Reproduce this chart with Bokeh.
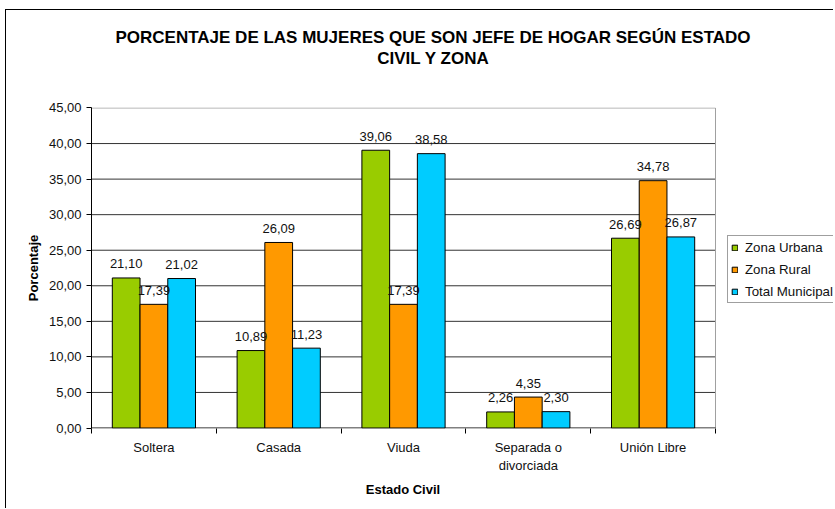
from bokeh.plotting import figure
from bokeh.layouts import column
from bokeh.models import (ColumnDataSource, Range1d, FixedTicker, CustomJSTickFormatter,
                          LabelSet, Legend, LegendItem, Div)
from bokeh.core.properties import value
from bokeh.embed import file_html
from bokeh.resources import INLINE

categories = ["Soltera", "Casada", "Viuda", "Separada o\ndivorciada", "Unión Libre"]
series_names = ["Zona Urbana", "Zona Rural", "Total Municipal"]
zona_urbana = [21.10, 10.89, 39.06, 2.26, 26.69]
zona_rural = [17.39, 26.09, 17.39, 4.35, 34.78]
total_municipal = [21.02, 11.23, 38.58, 2.30, 26.87]
colors = ["#99CC00", "#FF9900", "#00CCFF"]
y_ticks = [0, 5, 10, 15, 20, 25, 30, 35, 40, 45]
title_lines = ["PORCENTAJE DE LAS MUJERES QUE SON JEFE DE HOGAR SEGÚN ESTADO", "CIVIL Y ZONA"]
x_title = "Estado Civil"
y_title = "Porcentaje"

FONT = "Liberation Sans"
CSS_FONT = "font-family:'Liberation Sans', Arial, sans-serif;"

n = len(categories)
y_max = y_ticks[-1]

title_div = Div(
    text=('<div style="width:800px; margin-left:27px; text-align:center; ' + CSS_FONT +
          'font-size:17px; font-weight:bold; line-height:21px; padding-top:17px; color:black;">'
          + title_lines[0] + '<br>' + title_lines[1] + '</div>'),
    width=827, height=87, margin=0)

# the frame runs to the right edge so that the legend beside the plot area is not clipped
frame_w = 827 - 85
cat_px = 624 / n
p = figure(width=827, height=381,
           x_range=Range1d(0, frame_w / cat_px),
           y_range=Range1d(-0.07, y_max + 0.07),
           output_backend="svg", toolbar_location=None, title=None, margin=0,
           min_border_left=85, min_border_right=0, min_border_top=10, min_border_bottom=50)

p.outline_line_color = None
p.xgrid.visible = False
p.ygrid.visible = False
p.background_fill_color = "white"

# horizontal gridlines and the plot-area border, limited to the category span
grid_vals = y_ticks[1:-1]
p.segment(x0=[0] * len(grid_vals), x1=[n] * len(grid_vals), y0=grid_vals, y1=grid_vals,
          line_color="#333333", line_width=1)
p.segment(x0=[0, n], x1=[n, n], y0=[y_max, 0], y1=[y_max, y_max],
          line_color="#a0a0a0", line_width=1)
p.segment(x0=[0], x1=[n], y0=[0], y1=[0], line_color="black", line_width=1)

bar_w = 1.0 / 4.5
series = [zona_urbana, zona_rural, total_municipal]
renderers = []
for j, vals in enumerate(series):
    xs = [i + 0.5 + (j - 1) * bar_w for i in range(n)]
    src = ColumnDataSource(dict(x=xs, top=vals, lab=[f"{v:.2f}".replace(".", ",") for v in vals]))
    r = p.vbar(x="x", top="top", bottom=0, width=bar_w, source=src, fill_color=colors[j],
               line_color="black", line_width=1)
    renderers.append(r)
    p.add_layout(LabelSet(x="x", y="top", text="lab", source=src, y_offset=14,
                          text_align="center", text_baseline="middle",
                          text_font=value(FONT), text_font_size="13px", text_color="#111111"))

# y axis
yax = p.yaxis[0]
yax.ticker = FixedTicker(ticks=y_ticks)
yax.formatter = CustomJSTickFormatter(code="return tick.toFixed(2).replace('.', ',');")
yax.axis_line_color = "black"
yax.major_tick_line_color = "black"
yax.major_tick_out = 5
yax.major_tick_in = 0
yax.minor_tick_line_color = None
yax.major_label_text_font = FONT
yax.major_label_text_font_size = "13px"
yax.major_label_text_color = "#111111"
yax.major_label_standoff = 5
yax.axis_label = y_title
yax.axis_label_text_font = FONT
yax.axis_label_text_font_size = "13px"
yax.axis_label_text_font_style = "bold"
yax.axis_label_text_color = "black"
yax.axis_label_standoff = 5

# x axis: labels at category centres, tick marks at category boundaries
xax = p.xaxis[0]
xax.ticker = FixedTicker(ticks=[i + 0.5 for i in range(n)], minor_ticks=list(range(n + 1)))
xax.major_label_overrides = {i + 0.5: c for i, c in enumerate(categories)}
xax.major_tick_line_color = None
xax.minor_tick_line_color = "black"
xax.minor_tick_out = 5
xax.minor_tick_in = 0
xax.axis_line_color = None
xax.major_label_text_font = FONT
xax.major_label_text_font_size = "13px"
xax.major_label_text_color = "#111111"
xax.major_label_standoff = 5

legend = Legend(items=[LegendItem(label=series_names[j], renderers=[renderers[j]]) for j in range(3)],
                location=(636, 125), orientation="vertical",
                border_line_color="#404040", border_line_width=1,
                background_fill_color="white", background_fill_alpha=1,
                padding=3, spacing=6, margin=0, label_height=16,
                glyph_width=7, glyph_height=7, label_standoff=7,
                label_text_font=FONT, label_text_font_size="13.3px", label_text_color="#111111")
p.add_layout(legend, "center")

xlabel_div = Div(
    text=('<div style="width:624px; margin-left:85px; text-align:center; ' + CSS_FONT +
          'font-size:13px; font-weight:bold; line-height:16px; padding-top:4px; color:black;">'
          + x_title + '</div>'),
    width=827, height=30, margin=0)

layout = column(title_div, p, xlabel_div, spacing=0)
layout.styles = {"border-left": "1px solid black", "border-top": "1px solid black",
                 "margin-left": "5px", "margin-top": "9px"}

open("out.html", "w").write(file_html(layout, INLINE))
